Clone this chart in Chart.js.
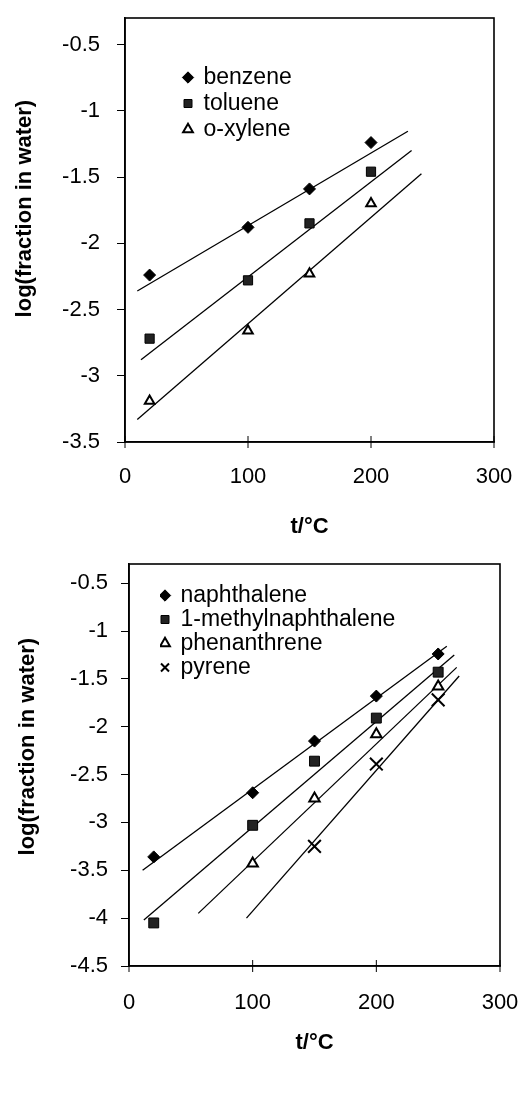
<!DOCTYPE html>
<html>
<head>
<meta charset="utf-8">
<title>log(fraction in water) vs t</title>
<script src="https://cdn.jsdelivr.net/npm/chart.js@4.4.1/dist/chart.umd.min.js"></script>
<style>
  body { margin: 0; background: #fff; width: 524px; height: 1099px; position: relative; overflow: hidden; }
  .caja { position: absolute; left: 0; width: 524px; }
</style>
</head>
<body>
<div class="caja" style="top:0"><canvas id="arriba" width="524" height="545"></canvas></div>
<div class="caja" style="top:545px"><canvas id="abajo" width="524" height="554"></canvas></div>

<script>
// ---- datos de arriba (BTEX) ----
var tempArriba = [20, 100, 150, 200];
var benzene = [-2.24, -1.88, -1.59, -1.24];
var toluene = [-2.72, -2.28, -1.85, -1.46];
var oXylene = [-3.19, -2.66, -2.23, -1.70];

// rectas de ajuste: extremos
var benzeneFitT = [10, 230],  benzeneFit = [-2.36, -1.155];
var tolueneFitT = [13, 233],  tolueneFit = [-2.88, -1.30];
var oXyleneFitT = [10, 241],  oXyleneFit = [-3.33, -1.475];

var yTicksArriba = [-3.5, -3, -2.5, -2, -1.5, -1, -0.5];

// ---- datos de abajo (PAH) ----
var tempNaph = [20, 100, 150, 200, 250];
var naphthalene = [-3.36, -2.69, -2.15, -1.68, -1.24];
var tempMN = [20, 100, 150, 200, 250];
var methylNaph = [-4.05, -3.03, -2.36, -1.91, -1.43];
var tempPhen = [100, 150, 200, 250];
var phenanthrene = [-3.43, -2.75, -2.08, -1.58];
var tempPyr = [150, 200, 250];
var pyrene = [-3.25, -2.39, -1.72];

var naphFitT = [11, 257],  naphFit = [-3.50, -1.16];
var mnFitT = [12, 263],    mnFit = [-4.02, -1.25];
var phenFitT = [56, 265],  phenFit = [-3.95, -1.38];
var pyrFitT = [95, 267],   pyrFit = [-4.00, -1.47];

var yTicksAbajo = [-4.5, -4, -3.5, -3, -2.5, -2, -1.5, -1, -0.5];
var xTicks = [0, 100, 200, 300];

Chart.defaults.font.family = "'Liberation Sans', Arial, sans-serif";
Chart.defaults.color = '#000';

function pares(xs, ys) {
    return xs.map(function (x, i) { return { x: x, y: ys[i] }; });
}

function puntos(nombre, xs, ys, estilo, radio, relleno, borde) {
    return {
        label: nombre,
        data: pares(xs, ys),
        showLine: false,
        pointStyle: estilo,
        pointRadius: radio,
        pointHoverRadius: radio,
        pointBackgroundColor: relleno,
        pointBorderColor: '#000',
        pointBorderWidth: borde
    };
}

function recta(xs, ys) {
    return {
        label: '',
        data: pares(xs, ys),
        showLine: true,
        borderColor: '#000',
        borderWidth: 1.3,
        pointRadius: 0,
        fill: false
    };
}

// marco del grafico + rayitas del eje x que cruzan el borde, y mover la leyenda
var marco = {
    id: 'marco',
    afterUpdate: function (chart, args, opts) {
        chart.legend.left = chart.chartArea.left + opts.dx;
        chart.legend.top = chart.chartArea.top + opts.dy;
    },
    afterDraw: function (chart) {
        var a = chart.chartArea, ctx = chart.ctx, ex = chart.scales.x;
        ctx.save();
        ctx.strokeStyle = '#000';
        ctx.lineWidth = 1.6;
        ctx.strokeRect(a.left, a.top, a.right - a.left, a.bottom - a.top);
        ctx.lineWidth = 1;
        ex.ticks.forEach(function (t) {
            var px = ex.getPixelForValue(t.value);
            ctx.beginPath();
            ctx.moveTo(px, a.bottom - 6);
            ctx.lineTo(px, a.bottom + 6);
            ctx.stroke();
        });
        ctx.restore();
    }
};

// que las etiquetas no empujen el area del grafico
function sinRelleno(s) {
    s.paddingTop = 0;
    s.paddingBottom = 0;
    s.paddingLeft = 0;
    s.paddingRight = 0;
}

function opciones(cfg) {
    return {
        responsive: false,
        animation: false,
        layout: { padding: { left: 0, top: cfg.top, right: cfg.right, bottom: 0 } },
        plugins: {
            tooltip: { enabled: false },
            marco: { dx: cfg.dx, dy: cfg.dy },
            legend: {
                position: 'chartArea',
                align: 'start',
                labels: {
                    usePointStyle: true,
                    boxWidth: 8,
                    boxHeight: 8,
                    padding: cfg.legPad,
                    color: '#000',
                    font: { size: 23 },
                    filter: function (item) { return item.text !== ''; }
                }
            }
        },
        scales: {
            x: {
                type: 'linear',
                min: 0,
                max: 300,
                afterBuildTicks: function (s) { s.ticks = xTicks.map(function (v) { return { value: v }; }); },
                afterFit: function (s) { s.height = cfg.xAlto; sinRelleno(s); },
                grid: { display: false },
                border: { color: '#000', width: 1.6 },
                ticks: { padding: cfg.xPad, font: { size: 22 }, color: '#000', maxRotation: 0,
                         callback: function (v) { return String(v); } },
                title: { display: true, text: 't/°C', color: '#000',
                         font: { size: 22, weight: 'bold' }, padding: { top: 0, bottom: cfg.xTitPad } }
            },
            y: {
                type: 'linear',
                min: cfg.yMin,
                max: -0.3,
                afterBuildTicks: function (s) { s.ticks = cfg.yTicks.map(function (v) { return { value: v }; }); },
                afterFit: function (s) { s.width = cfg.yAncho; sinRelleno(s); },
                grid: { drawOnChartArea: false, drawTicks: true, tickLength: 8, color: '#000', lineWidth: 1 },
                border: { color: '#000', width: 1.6 },
                ticks: { padding: cfg.yPad, font: { size: 22 }, color: '#000',
                         callback: function (v) { return String(v); } },
                title: { display: true, text: cfg.yTit, color: '#000',
                         font: { size: 22, weight: 'bold' }, padding: { top: cfg.yTitPad, bottom: 0 } }
            }
        }
    };
}

new Chart(document.getElementById('arriba'), {
    type: 'scatter',
    data: {
        datasets: [
            puntos('benzene', tempArriba, benzene, 'rectRot', 6, '#000', 1),
            puntos('toluene', tempArriba, toluene, 'rect', 6.5, '#222', 1),
            puntos('o-xylene', tempArriba, oXylene, 'triangle', 5.5, '#fff', 2),
            recta(benzeneFitT, benzeneFit),
            recta(tolueneFitT, tolueneFit),
            recta(oXyleneFitT, oXyleneFit)
        ]
    },
    options: opciones({
        top: 18, right: 30, dx: 56, dy: 45, legPad: 3,
        xAlto: 103, xPad: 14, xTitPad: 5,
        yMin: -3.5, yTicks: yTicksArriba, yAncho: 125, yPad: 17, yTitPad: 12,
        yTit: '       log(fraction in water)'
    }),
    plugins: [marco]
});

new Chart(document.getElementById('abajo'), {
    type: 'scatter',
    data: {
        datasets: [
            puntos('naphthalene', tempNaph, naphthalene, 'rectRot', 6, '#000', 1),
            puntos('1-methylnaphthalene', tempMN, methylNaph, 'rect', 7, '#222', 1),
            puntos('phenanthrene', tempPhen, phenanthrene, 'triangle', 6, '#fff', 2),
            puntos('pyrene', tempPyr, pyrene, 'crossRot', 9, '#000', 2),
            recta(naphFitT, naphFit),
            recta(mnFitT, mnFit),
            recta(phenFitT, phenFit),
            recta(pyrFitT, pyrFit)
        ]
    },
    options: opciones({
        top: 19, right: 24, dx: 31, dy: 19, legPad: 1,
        xAlto: 133, xPad: 16, xTitPad: 43,
        yMin: -4.5, yTicks: yTicksAbajo, yAncho: 129, yPad: 13, yTitPad: 15,
        yTit: '      log(fraction in water)'
    }),
    plugins: [marco]
});
</script>
</body>
</html>
